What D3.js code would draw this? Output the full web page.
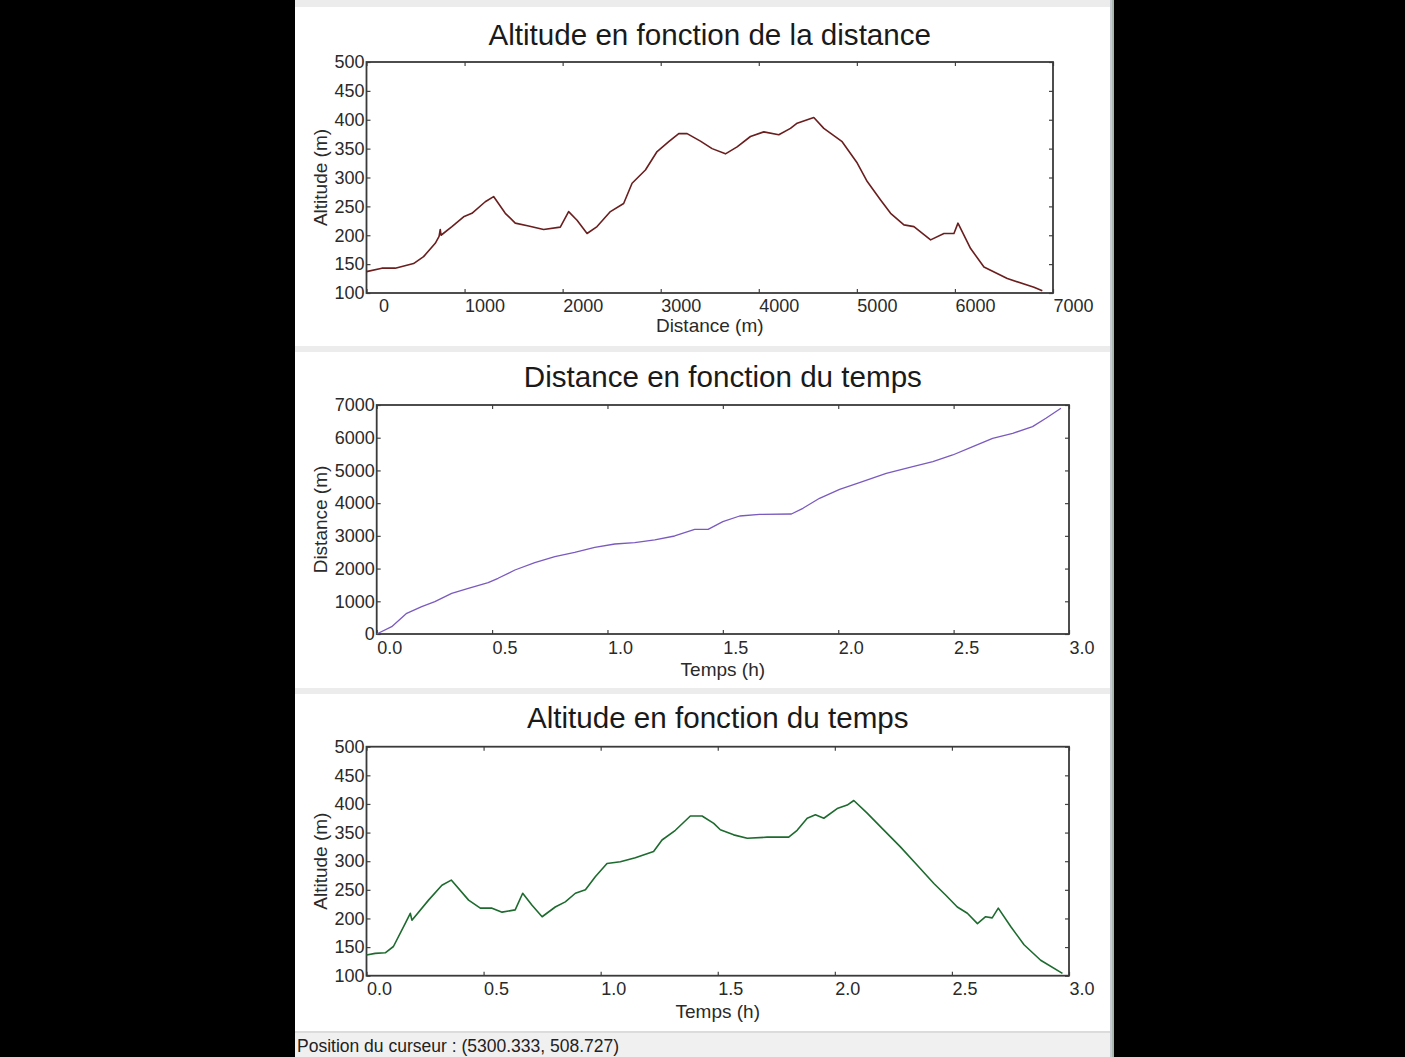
<!DOCTYPE html>
<html>
<head>
<meta charset="utf-8">
<script src="https://cdn.jsdelivr.net/npm/d3@7"></script>
<style>
  html, body { margin: 0; padding: 0; background: #000; }
  svg { display: block; }
  text { font-family: "Liberation Sans", Arial, sans-serif; }
</style>
</head>
<body>
<svg id="chart" width="1405" height="1057"></svg>
<script>
// ---------- Data ----------
// Chart 1 : altitude vs distance
const distance1 = [0, 157, 293, 480, 582, 701, 740, 752, 760, 871, 990, 1075, 1211, 1296, 1415, 1517, 1653, 1806, 1976, 2061, 2147, 2249, 2351, 2487, 2622, 2708, 2844, 2963, 3082, 3184, 3269, 3405, 3524, 3660, 3779, 3915, 4051, 4204, 4323, 4391, 4561, 4663, 4850, 5004, 5106, 5242, 5344, 5480, 5582, 5752, 5888, 5990, 6031, 6160, 6296, 6534, 6806, 6891];
const altitude1 = [137, 143, 143, 151, 163, 186, 198, 210, 200, 215, 232, 238, 258, 267, 238, 221, 216, 210, 214, 241, 226, 203, 215, 241, 255, 290, 313, 345, 362, 376, 376, 363, 350, 341, 353, 371, 379, 374, 385, 394, 404, 385, 362, 325, 293, 261, 238, 218, 215, 192, 203, 203, 221, 177, 145, 125, 110, 104];

// Chart 2 : distance vs time
const time2 = [0, 0.065, 0.13, 0.195, 0.252, 0.325, 0.397, 0.483, 0.526, 0.599, 0.685, 0.772, 0.858, 0.945, 1.032, 1.118, 1.205, 1.291, 1.378, 1.436, 1.50, 1.573, 1.659, 1.797, 1.847, 1.919, 2.006, 2.092, 2.208, 2.323, 2.41, 2.496, 2.583, 2.669, 2.756, 2.842, 2.9, 2.965];
const distance2 = [0, 223, 633, 835, 988, 1244, 1397, 1569, 1703, 1956, 2180, 2363, 2497, 2650, 2751, 2791, 2874, 2996, 3200, 3200, 3433, 3607, 3658, 3668, 3842, 4148, 4423, 4626, 4912, 5116, 5269, 5472, 5727, 5982, 6135, 6338, 6594, 6900];

// Chart 3 : altitude vs time
const time3 = [0, 0.037, 0.08, 0.115, 0.165, 0.187, 0.194, 0.265, 0.322, 0.362, 0.436, 0.486, 0.536, 0.579, 0.635, 0.667, 0.707, 0.75, 0.806, 0.849, 0.892, 0.935, 0.977, 1.027, 1.084, 1.148, 1.226, 1.262, 1.319, 1.383, 1.433, 1.483, 1.511, 1.568, 1.626, 1.711, 1.803, 1.839, 1.882, 1.917, 1.953, 2.01, 2.053, 2.081, 2.138, 2.203, 2.28, 2.352, 2.423, 2.473, 2.523, 2.566, 2.609, 2.644, 2.672, 2.698, 2.751, 2.808, 2.879, 2.972];
const altitude3 = [136, 139, 140, 151, 191, 209, 197, 232, 258, 267, 232, 218, 218, 211, 215, 244, 223, 203, 220, 229, 244, 250, 273, 296, 299, 306, 317, 337, 354, 379, 379, 366, 355, 346, 340, 342, 342, 354, 375, 381, 375, 392, 398, 406, 384, 357, 325, 293, 261, 241, 220, 209, 191, 203, 201, 218, 186, 154, 127, 104];

// Tick values
const ticksDistance = [0, 1000, 2000, 3000, 4000, 5000, 6000, 7000];
const ticksAltitude = [100, 150, 200, 250, 300, 350, 400, 450, 500];
const ticksTime = [0, 0.5, 1.0, 1.5, 2.0, 2.5, 3.0];

// Texts
const titles = ["Altitude en fonction de la distance", "Distance en fonction du temps", "Altitude en fonction du temps"];
const xLabels = ["Distance (m)", "Temps (h)", "Temps (h)"];
const yLabels = ["Altitude (m)", "Distance (m)", "Altitude (m)"];
const statusText = "Position du curseur : (5300.333, 508.727)";

// ---------- Drawing ----------
const svg = d3.select("#chart");

// window panel
svg.append("rect").attr("x", 295).attr("y", 0).attr("width", 818).attr("height", 1057).attr("fill", "#ececec");
const bands = [[7, 346], [352, 688], [694, 1031]];
bands.forEach(b => {
  svg.append("rect").attr("x", 295).attr("y", b[0]).attr("width", 815).attr("height", b[1] - b[0]).attr("fill", "#ffffff");
});
svg.append("rect").attr("x", 295).attr("y", 1032).attr("width", 815).attr("height", 25).attr("fill", "#f0f0f0");
svg.append("line").attr("x1", 295).attr("x2", 1110).attr("y1", 1032).attr("y2", 1032).attr("stroke", "#d6d6d6").attr("stroke-width", 1.5);
svg.append("rect").attr("x", 1110).attr("y", 0).attr("width", 4).attr("height", 1057).attr("fill", "#c8cdd4");
svg.append("line").attr("x1", 1113).attr("x2", 1113).attr("y1", 0).attr("y2", 1057).attr("stroke", "#8aa08a").attr("stroke-width", 1);

svg.append("text").attr("x", 297).attr("y", 1052).attr("font-size", 17.5).attr("fill", "#222").text(statusText);

const charts = [
  { xs: distance1, ys: altitude1, xDom: [0, 7000], yDom: [100, 500], xTicks: ticksDistance, yTicks: ticksAltitude,
    xFmt: d3.format("d"), yFmt: d3.format("d"),
    left: 366.5, right: 1053, top: 62, bottom: 293, color: "#6a1e1e", width: 1.6,
    titleY: 44.5, xLabelY: 332, tickLabelPad: 6 },
  { xs: time2, ys: distance2, xDom: [0, 3], yDom: [0, 7000], xTicks: ticksTime, yTicks: ticksDistance,
    xFmt: d3.format(".1f"), yFmt: d3.format("d"),
    left: 376.7, right: 1069, top: 405, bottom: 634, color: "#7a5ac0", width: 1.3,
    titleY: 386.5, xLabelY: 676, tickLabelPad: 7 },
  { xs: time3, ys: altitude3, xDom: [0, 3], yDom: [100, 500], xTicks: ticksTime, yTicks: ticksAltitude,
    xFmt: d3.format(".1f"), yFmt: d3.format("d"),
    left: 366.5, right: 1069, top: 746.7, bottom: 975.7, color: "#1d6b2e", width: 1.6,
    titleY: 728, xLabelY: 1018, tickLabelPad: 7 }
];

charts.forEach((c, i) => {
  const x = d3.scaleLinear().domain(c.xDom).range([c.left, c.right]);
  const y = d3.scaleLinear().domain(c.yDom).range([c.bottom, c.top]);
  const g = svg.append("g");
  const cx = (c.left + c.right) / 2;
  const cy = (c.top + c.bottom) / 2;

  // title
  g.append("text").attr("x", cx).attr("y", c.titleY).attr("text-anchor", "middle")
    .attr("font-size", 29.6).attr("fill", "#1a1a1a").text(titles[i]);

  // axes (ticks inward)
  const axB = g.append("g").attr("transform", `translate(0,${c.bottom})`)
    .call(d3.axisBottom(x).tickValues(c.xTicks).tickFormat(c.xFmt).tickSizeInner(-4).tickSizeOuter(0).tickPadding(c.tickLabelPad));
  axB.selectAll("text").attr("text-anchor", "start").attr("font-size", 18).attr("fill", "#2a2a2a")
    .attr("dx", d => (c.xFmt(d).length === 1 ? 12 : 0));
  const axL = g.append("g").attr("transform", `translate(${c.left},0)`)
    .call(d3.axisLeft(y).tickValues(c.yTicks).tickFormat(c.yFmt).tickSizeInner(-4).tickSizeOuter(0).tickPadding(2));
  axL.selectAll("text").attr("font-size", 18).attr("fill", "#2a2a2a");
  const axT = g.append("g").attr("transform", `translate(0,${c.top})`)
    .call(d3.axisTop(x).tickValues(c.xTicks).tickFormat("").tickSizeInner(-4).tickSizeOuter(0));
  const axR = g.append("g").attr("transform", `translate(${c.right},0)`)
    .call(d3.axisRight(y).tickValues(c.yTicks).tickFormat("").tickSizeInner(-4).tickSizeOuter(0));
  [axB, axL, axT, axR].forEach(a => {
    a.select(".domain").remove();
    a.selectAll("line").attr("stroke", "#444").attr("stroke-width", 1.2);
  });

  // frame
  g.append("rect").attr("x", c.left).attr("y", c.top).attr("width", c.right - c.left).attr("height", c.bottom - c.top)
    .attr("fill", "none").attr("stroke", "#3a3a3a").attr("stroke-width", 1.8);

  // line
  const pts = c.xs.map((v, k) => [v, c.ys[k]]);
  g.append("path").datum(pts)
    .attr("d", d3.line().x(d => x(d[0])).y(d => y(d[1])))
    .attr("fill", "none").attr("stroke", c.color).attr("stroke-width", c.width).attr("stroke-linejoin", "round");

  // axis labels
  g.append("text").attr("x", cx).attr("y", c.xLabelY).attr("text-anchor", "middle")
    .attr("font-size", 19).attr("fill", "#2a2a2a").text(xLabels[i]);
  g.append("text").attr("transform", `translate(327,${cy}) rotate(-90)`).attr("text-anchor", "middle")
    .attr("font-size", 19).attr("fill", "#2a2a2a").text(yLabels[i]);
});
</script>
</body>
</html>
